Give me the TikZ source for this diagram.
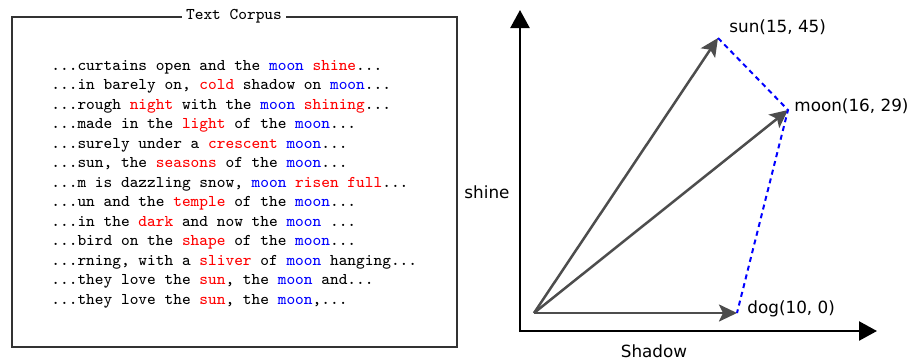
\documentclass[tikz,border=0pt]{standalone}
\usepackage{fontspec}
\usepackage{xcolor}
\newfontfamily\dvsans{DejaVu Sans}
\definecolor{vecgray}{HTML}{4d4d4d}
\usepackage{tikz}
\usetikzlibrary{arrows.meta}
\newcommand{\mn}[1]{\textcolor{blue}{#1}}
\newcommand{\ct}[1]{\textcolor{red}{#1}}

\begin{document}
\begin{tikzpicture}[x=0.5pt, y=-0.5pt,
  axis/.style={line width=1.2pt, -{Triangle[length=9pt,width=9.5pt]}},
  vec/.style={vecgray, line width=1.25pt, -{Stealth[length=9pt,width=8.5pt,inset=2pt]}},
  diff/.style={blue, line width=1pt, dash pattern=on 2.5pt off 2pt},
  lbl/.style={font=\dvsans\fontsize{8.4}{10}\selectfont, inner sep=0pt}]
\useasboundingbox (0,0) rectangle (912,361);

% Corpus box
\draw[line width=0.6pt, black!80] (12,17) rectangle (457,347);
\node[fill=white, inner sep=2pt, font=\ttfamily\fontsize{8.2}{10}\selectfont] (title) at (234,16) {Text Corpus};
\node[anchor=north west, align=left, inner sep=0pt, font=\ttfamily\fontsize{8.2}{9.75}\selectfont] (corpus) at (51,60) {...curtains open and the \mn{moon} \ct{shine}...\\
...in barely on, \ct{cold} shadow on \mn{moon}...\\
...rough \ct{night} with the \mn{moon} \ct{shining}...\\
...made in the \ct{light} of the \mn{moon}...\\
...surely under a \ct{crescent} \mn{moon}...\\
...sun, the \ct{seasons} of the \mn{moon}...\\
...m is dazzling snow, \mn{moon} \ct{risen full}...\\
...un and the \ct{temple} of the \mn{moon}...\\
...in the \ct{dark} and now the \mn{moon} ...\\
...bird on the \ct{shape} of the \mn{moon}...\\
...rning, with a \ct{sliver} of \mn{moon} hanging...\\
...they love the \ct{sun}, the \mn{moon} and...\\
...they love the \ct{sun}, the \mn{moon},...};

% Axes
\coordinate (ax) at (520,331);
\coordinate (ytop) at (520,10);
\coordinate (xend) at (877,331);
\draw[axis] ([yshift=-0.6pt]ax) -- (ytop);
\draw[axis] ([xshift=-0.6pt]ax) -- (xend);
\node[lbl] (ylbl) at (487,192) {shine};
\node[lbl] (xlbl) at (654,351) {Shadow};

% Word vectors
\coordinate (o) at (534,313);
\coordinate (sun) at (718,38);
\coordinate (moon) at (788,110);
\coordinate (dog) at (737,313);
\draw[vec] (o) -- (sun);
\draw[vec] (o) -- (moon);
\draw[vec] (o) -- (dog);
\draw[diff] (sun) -- (moon) -- (dog);
\node[lbl, anchor=west] (sunlbl) at (729,27) {sun(15, 45)};
\node[lbl, anchor=west] (moonlbl) at (794,106) {moon(16, 29)};
\node[lbl, anchor=west] (doglbl) at (747,309) {dog(10, 0)};
\end{tikzpicture}
\end{document}
